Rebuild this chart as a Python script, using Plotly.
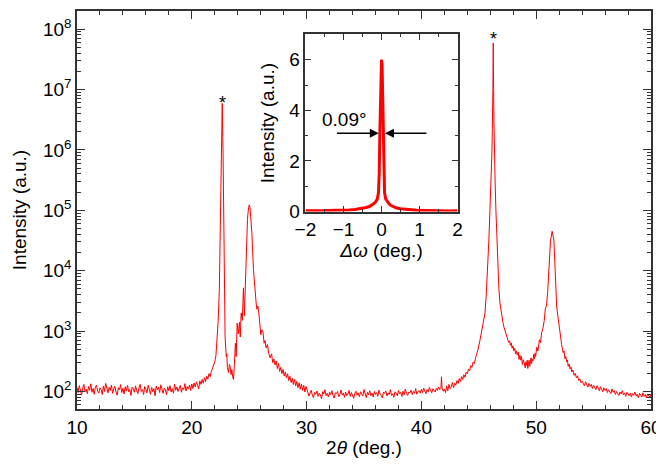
import plotly.graph_objects as go

# 2theta-omega scan (log intensity)
tt_left = [10.0, 10.1, 10.2, 10.3, 10.4, 10.5, 10.6, 10.7, 10.8, 10.9,
           11.0, 11.1, 11.2, 11.3, 11.4, 11.5, 11.6, 11.7, 11.8, 11.9,
           12.0, 12.1, 12.2, 12.3, 12.4, 12.5, 12.6, 12.7, 12.8, 12.9,
           13.0, 13.1, 13.2, 13.3, 13.4, 13.5, 13.6, 13.7, 13.8, 13.9,
           14.0, 14.1, 14.2, 14.3, 14.4, 14.5, 14.6, 14.7, 14.8, 14.9,
           15.0, 15.1, 15.2, 15.3, 15.4, 15.5, 15.6, 15.7, 15.8, 15.9,
           16.0, 16.1, 16.2, 16.3, 16.4, 16.5, 16.6, 16.7, 16.8, 16.9,
           17.0, 17.1, 17.2, 17.3, 17.4, 17.5, 17.6, 17.7, 17.8, 17.9,
           18.0, 18.1, 18.2, 18.3, 18.4, 18.5, 18.6, 18.7, 18.8, 18.9,
           19.0, 19.1, 19.2, 19.3, 19.4, 19.5, 19.6, 19.7, 19.8, 19.9, 20.0]
int_left = [118, 96, 125, 103, 88, 114, 131, 99, 109, 92,
            121, 105, 134, 97, 112, 90, 119, 127, 101, 94,
            115, 108, 89, 123, 100, 136, 111, 95, 117, 104,
            128, 93, 110, 122, 98, 87, 116, 106, 130, 96,
            113, 91, 120, 102, 126, 99, 108, 86, 118, 111,
            97, 124, 103, 92, 115, 131, 100, 107, 89, 121,
            109, 95, 127, 104, 90, 117, 99, 112, 85, 123,
            106, 118, 96, 129, 101, 93, 114, 107, 88, 120,
            103, 125, 98, 111, 94, 132, 105, 119, 100, 113,
            126, 97, 115, 108, 135, 102, 121, 110, 128, 104, 133]

tt_peaks_a = [20.1, 20.2, 20.3, 20.4, 20.5, 20.6, 20.7, 20.8, 20.9, 21.0,
              21.1, 21.2, 21.3, 21.4, 21.5, 21.6, 21.7, 21.8, 21.9,
              22.0, 22.1, 22.2, 22.3, 22.4, 22.5, 22.58, 22.65, 22.72, 22.78,
              22.84, 22.9, 23.0, 23.05, 23.1, 23.2, 23.27, 23.34, 23.42, 23.49,
              23.56, 23.63, 23.7, 23.8, 23.87, 23.95, 24.05, 24.15, 24.22, 24.3,
              24.4, 24.5, 24.58, 24.65, 24.73, 24.85, 24.93, 25.0, 25.07, 25.14,
              25.23, 25.37, 25.45, 25.52, 25.6, 25.67, 25.75, 25.84, 25.92, 26.01,
              26.1, 26.19, 26.3, 26.38, 26.47, 26.59, 26.7, 26.82, 26.95, 27.05,
              27.15, 27.25, 27.35, 27.45, 27.55, 27.65, 27.75, 27.85, 27.95, 28.05,
              28.15, 28.25, 28.35, 28.45, 28.55, 28.65, 28.75, 28.85, 28.95, 29.05,
              29.15, 29.25, 29.35, 29.45, 29.55, 29.65, 29.75, 29.85, 29.95, 30.0]
int_peaks_a = [112, 138, 119, 145, 126, 110, 150, 131, 158, 137,
               170, 146, 181, 160, 198, 176, 214, 240, 262,
               310, 390, 700, 1500, 5000, 60000, 1.2e6, 5.9e6, 1.0e6, 30000,
               2500, 800, 380, 420, 250, 205, 280, 260, 190, 230,
               175, 158, 260, 630, 380, 1350, 900, 1400, 800, 2000,
               1500, 5200, 1800, 5500, 22000, 71000, 105000, 123000, 112000, 82000,
               43000, 10500, 5800, 5400, 3000, 2300, 2600, 2000, 1300, 870,
               1050, 1000, 630, 700, 525, 600, 430, 360, 420, 300,
               345, 275, 320, 240, 290, 215, 250, 198, 232, 180,
               210, 168, 196, 152, 178, 141, 165, 130, 158, 124,
               147, 116, 139, 109, 132, 104, 127, 98, 121, 108]

tt_mid = [30.1, 30.2, 30.3, 30.4, 30.5, 30.6, 30.7, 30.8, 30.9, 31.0,
          31.1, 31.2, 31.3, 31.4, 31.5, 31.6, 31.7, 31.8, 31.9, 32.0,
          32.1, 32.2, 32.3, 32.4, 32.5, 32.6, 32.7, 32.8, 32.9, 33.0,
          33.1, 33.2, 33.3, 33.4, 33.5, 33.6, 33.7, 33.8, 33.9, 34.0,
          34.1, 34.2, 34.3, 34.4, 34.5, 34.6, 34.7, 34.8, 34.9, 35.0,
          35.1, 35.2, 35.3, 35.4, 35.5, 35.6, 35.7, 35.8, 35.9, 36.0,
          36.1, 36.2, 36.3, 36.4, 36.5, 36.6, 36.7, 36.8, 36.9, 37.0,
          37.1, 37.2, 37.3, 37.4, 37.5, 37.6, 37.7, 37.8, 37.9, 38.0,
          38.1, 38.2, 38.3, 38.4, 38.5, 38.6, 38.7, 38.8, 38.9, 39.0,
          39.1, 39.2, 39.3, 39.4, 39.5, 39.6, 39.7, 39.8, 39.9, 40.0,
          40.1, 40.2, 40.3, 40.4, 40.5, 40.6, 40.7, 40.8, 40.9, 41.0,
          41.1, 41.2, 41.3, 41.4, 41.5, 41.6, 41.7, 41.75, 41.8, 41.9]
int_mid = [98, 84, 93, 105, 87, 79, 96, 90, 102, 83,
           94, 88, 76, 99, 91, 107, 85, 93, 81, 97,
           89, 103, 86, 78, 95, 92, 100, 82, 90, 106,
           87, 94, 80, 98, 85, 91, 104, 83, 96, 88,
           77, 93, 101, 86, 95, 82, 99, 90, 84, 108,
           92, 79, 97, 88, 103, 85, 94, 81, 100, 89,
           96, 83, 105, 91, 87, 78, 98, 93, 102, 84,
           95, 89, 107, 86, 92, 80, 99, 94, 85, 104,
           91, 97, 83, 101, 88, 110, 92, 86, 98, 95,
           105, 89, 100, 93, 112, 90, 99, 104, 94, 109,
           96, 114, 101, 92, 108, 99, 117, 103, 95, 111,
           106, 98, 113, 104, 118, 107, 112, 175, 115, 101]

tt_peaks_b = [42.0, 42.1, 42.2, 42.3, 42.4, 42.5, 42.6, 42.7, 42.8, 42.9,
              43.0, 43.1, 43.2, 43.3, 43.4, 43.5, 43.6, 43.7, 43.8, 43.9,
              44.0, 44.1, 44.2, 44.3, 44.4, 44.5, 44.6, 44.7, 44.8, 44.9,
              45.0, 45.1, 45.25, 45.4, 45.54, 45.65,
              45.77, 45.87, 45.97, 46.06, 46.15, 46.23, 46.26, 46.29, 46.32, 46.35,
              46.42, 46.49, 46.58, 46.67, 46.75, 46.84, 46.95, 47.1, 47.2, 47.28,
              47.38, 47.45, 47.55, 47.6, 47.68, 47.75, 47.83, 47.9, 47.98, 48.05,
              48.13, 48.2, 48.28, 48.35, 48.43, 48.5, 48.58, 48.65, 48.72, 48.8,
              48.88, 48.95, 49.05, 49.1, 49.16, 49.22, 49.27, 49.33, 49.38, 49.44,
              49.5, 49.55, 49.6, 49.66, 49.72, 49.78, 49.85, 49.9, 49.95, 50.05,
              50.15, 50.22, 50.28, 50.38, 50.47, 50.58, 50.7, 50.8, 50.9, 51.0,
              51.13, 51.25, 51.39, 51.54, 51.65, 51.78, 51.9, 51.98, 52.05, 52.1,
              52.16, 52.21, 52.28, 52.35, 52.43, 52.5, 52.58, 52.65, 52.72, 52.79,
              52.87, 52.95, 53.03, 53.1, 53.2, 53.3, 53.4, 53.5, 53.6, 53.7,
              53.8, 53.9, 54.0]
int_peaks_b = [110, 96, 124, 103, 131, 112, 120, 141, 115, 137,
               128, 152, 136, 164, 146, 177, 158, 190, 172, 208,
               196, 236, 220, 268, 250, 305, 290, 372, 410, 470,
               560, 700, 1000, 1400, 2000, 4000,
               10000, 30000, 100000, 300000, 1.0e6, 1.0e7, 5.9e7, 1.0e7, 3.0e6, 1.0e6,
               3.0e5, 1.0e5, 30000, 10000, 5000, 2950, 2000, 1400, 1150, 1000,
               860, 800, 700, 650, 690, 580, 640, 520, 570, 470,
               520, 420, 470, 400, 450, 340, 395, 330, 380, 280,
               335, 300, 245, 310, 270, 330, 240, 295, 330, 260,
               300, 360, 290, 345, 320, 410, 350, 430, 380, 540,
               470, 600, 720, 640, 940, 1100, 1500, 2400, 2600, 4500,
               10500, 32000, 45000, 32000, 10500, 2600, 1700, 1200, 980, 800,
               720, 600, 530, 440, 470, 350, 380, 310, 330, 260,
               285, 235, 255, 210, 228, 185, 200, 168, 182, 152,
               162, 140, 148]

tt_right = [54.1, 54.2, 54.3, 54.4, 54.5, 54.6, 54.7, 54.8, 54.9, 55.0,
            55.1, 55.2, 55.3, 55.4, 55.5, 55.6, 55.7, 55.8, 55.9, 56.0,
            56.1, 56.2, 56.3, 56.4, 56.5, 56.6, 56.7, 56.8, 56.9, 57.0,
            57.1, 57.2, 57.3, 57.4, 57.5, 57.6, 57.7, 57.8, 57.9, 58.0,
            58.1, 58.2, 58.3, 58.4, 58.5, 58.6, 58.7, 58.8, 58.9, 59.0,
            59.1, 59.2, 59.3, 59.4, 59.5, 59.6, 59.7, 59.8, 59.9, 60.0]
int_right = [138, 124, 145, 129, 118, 136, 121, 131, 112, 127,
             117, 108, 125, 114, 103, 120, 109, 99, 115, 104,
             111, 96, 107, 101, 92, 110, 97, 103, 89, 100,
             94, 86, 98, 91, 103, 88, 95, 83, 97, 90,
             85, 94, 81, 92, 87, 98, 84, 90, 79, 93,
             86, 81, 95, 83, 89, 78, 91, 84, 80, 88]

# rocking curve (inset)
inset_dw = [-2.0, -1.8, -1.6, -1.4, -1.2, -1.0, -0.85, -0.7, -0.6, -0.5,
            -0.4, -0.32, -0.25, -0.2, -0.15, -0.11, -0.08, -0.06, -0.045, -0.03,
            -0.015, 0.0, 0.015, 0.03, 0.045, 0.06, 0.08, 0.11, 0.15, 0.2,
            0.25, 0.32, 0.4, 0.5, 0.6, 0.7, 0.85, 1.0, 1.2, 1.4,
            1.6, 1.8, 2.0]
inset_int = [0.03, 0.02, 0.03, 0.04, 0.04, 0.05, 0.06, 0.08, 0.1, 0.12,
             0.16, 0.2, 0.26, 0.32, 0.4, 0.5, 0.75, 1.5, 3.0, 4.7,
             5.8, 6.0, 5.8, 4.7, 3.0, 1.5, 0.75, 0.5, 0.4, 0.3,
             0.24, 0.18, 0.14, 0.11, 0.09, 0.07, 0.05, 0.04, 0.04, 0.03,
             0.03, 0.02, 0.03]

# y tick labels (powers of ten)
decades = [2, 3, 4, 5, 6, 7, 8]
log_major = [10 ** e for e in decades]
log_labels = ["10<sup>%d</sup>" % e for e in decades]
log_minor = [m * 10 ** e for e in range(1, 9) for m in range(2, 10)]

two_theta = tt_left + tt_peaks_a + tt_mid + tt_peaks_b + tt_right
intensity = int_left + int_peaks_a + int_mid + int_peaks_b + int_right

FONT = "Liberation Sans, Arial, sans-serif"

fig = go.Figure()
fig.add_trace(go.Scatter(x=two_theta, y=intensity, mode="lines",
                         line=dict(color="#ff0000", width=1), xaxis="x", yaxis="y"))
fig.add_trace(go.Scatter(x=inset_dw, y=inset_int, mode="lines",
                         line=dict(color="#ff0000", width=3), xaxis="x2", yaxis="y2"))

axis_common = dict(showgrid=False, zeroline=False, showline=True, mirror="ticks",
                   linecolor="#333", linewidth=1.5, ticks="inside", tickcolor="#333",
                   automargin=False, tickfont=dict(size=19, color="black"))

# the page body adds an 8px margin, so the figure is 8px smaller and margins shifted
fig.update_layout(
    width=656, height=457,
    margin=dict(l=69, r=13, t=3, b=56),
    paper_bgcolor="white", plot_bgcolor="white",
    font=dict(family=FONT, size=19, color="black"),
    showlegend=False,
    xaxis=dict(range=[10, 60], dtick=10, ticklen=8,
               minor=dict(dtick=2, ticks="inside", ticklen=4, tickcolor="#333"),
               title=dict(text="2<i>θ</i> (deg.)", font=dict(size=19), standoff=4),
               **axis_common),
    yaxis=dict(type="log", range=[1.71, 8.30], tickvals=log_major, ticktext=log_labels,
               ticklen=8,
               minor=dict(tickvals=log_minor, ticks="inside", ticklen=4, tickcolor="#333"),
               title=dict(text="Intensity (a.u.)", font=dict(size=19), standoff=11),
               **axis_common),
    xaxis2=dict(domain=[0.398, 0.663], anchor="y2", range=[-2, 2], dtick=1, ticklen=6,
                minor=dict(dtick=0.5, ticks="inside", ticklen=3, tickcolor="#333"),
                title=dict(text="<i>Δω</i> (deg.)", font=dict(size=19), standoff=2),
                **axis_common),
    yaxis2=dict(domain=[0.496, 0.941], anchor="x2", range=[0, 7], dtick=2, ticklen=6,
                minor=dict(dtick=1, ticks="inside", ticklen=3, tickcolor="#333"),
                title=dict(text="Intensity (a.u.)", font=dict(size=19), standoff=10),
                **axis_common),
)

# peak markers
for px, py in [(22.65, 6.78), (46.26, 7.83)]:
    fig.add_annotation(x=px, y=py, xref="x", yref="y", text="*", showarrow=False,
                       font=dict(size=18, color="black"))

# FWHM arrows in the inset
fig.add_annotation(x=-0.07, y=3.1, ax=-1.21, ay=3.1, xref="x2", yref="y2",
                   axref="x2", ayref="y2", text="", showarrow=True, arrowhead=2,
                   arrowsize=1.2, arrowwidth=1.5, arrowcolor="black")
fig.add_annotation(x=0.09, y=3.1, ax=1.22, ay=3.1, xref="x2", yref="y2",
                   axref="x2", ayref="y2", text="", showarrow=True, arrowhead=2,
                   arrowsize=1.2, arrowwidth=1.5, arrowcolor="black")
fig.add_annotation(x=-0.98, y=3.65, xref="x2", yref="y2", text="0.09°",
                   showarrow=False, font=dict(size=19, color="black"))

fig.write_html("out.html")
